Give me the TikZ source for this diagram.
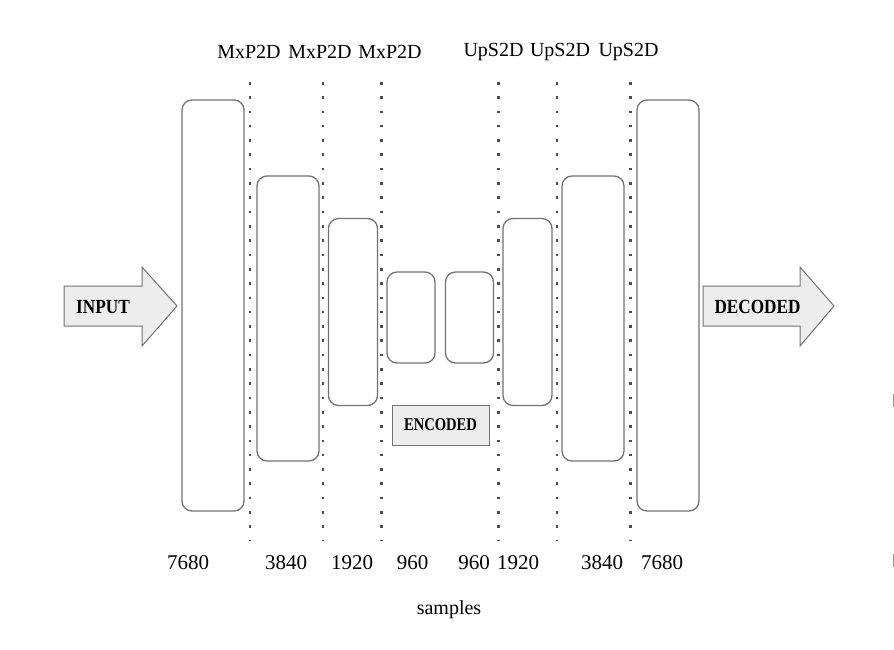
\documentclass[tikz,border=0pt]{standalone}
\usepackage{fontspec}
\setmainfont{Liberation Serif}
\newfontfamily\condbold[FakeStretch=0.86]{Liberation Serif Bold}
\newfontfamily\condboldb[FakeStretch=0.81]{Liberation Serif Bold}
\begin{document}
\begin{tikzpicture}[x=1pt,y=-1pt,
  blk/.style={draw=black!55, line width=1.3pt, rounded corners=10pt, inner sep=0pt},
  sep/.style={draw=black!70, line width=2.6pt, dash pattern=on 2.6pt off 11.7pt},
  lbl/.style={font=\fontsize{20}{24}\selectfont, inner sep=0pt, anchor=center},
  num/.style={font=\fontsize{21}{24}\selectfont, inner sep=0pt, anchor=center},
  tag/.style={font=\condbold\fontsize{20}{22}\selectfont, inner sep=0pt},
  arr/.style={draw=black!55, fill=black!7, line width=1pt, line join=miter}]
\useasboundingbox (0,0) rectangle (894,650);
% blocks
\node[blk, minimum width=62pt, minimum height=411pt] (b1) at (213,305.5) {};
\node[blk, minimum width=62pt, minimum height=285pt] (b2) at (288,318.5) {};
\node[blk, minimum width=49pt, minimum height=187pt] (b3) at (353,312) {};
\node[blk, minimum width=48pt, minimum height=91pt] (b4) at (411,317.5) {};
\node[blk, minimum width=48pt, minimum height=91pt] (b5) at (469.5,317.5) {};
\node[blk, minimum width=49pt, minimum height=187pt] (b6) at (527.5,312) {};
\node[blk, minimum width=62pt, minimum height=285pt] (b7) at (593,318.5) {};
\node[blk, minimum width=62pt, minimum height=411pt] (b8) at (668,305.5) {};
% separators
\foreach \n/\x in {s1/250,s2/323,s3/381.5,s4/498.5,s5/557,s6/630.5}{
  \coordinate (\n t) at (\x,82);
  \coordinate (\n b) at (\x,540);
  \draw[sep] (\n t) -- (\n b);
}
% top labels
\node[lbl] (m1) at (249,52) {MxP2D};
\node[lbl] (m2) at (320,52) {MxP2D};
\node[lbl] (m3) at (390,52) {MxP2D};
\node[lbl] (u1) at (493.5,52) {UpS2D};
\node[lbl] (u2) at (560,52) {UpS2D};
\node[lbl] (u3) at (628.5,52) {UpS2D};
% bottom labels
\node[num] (n1) at (188,563) {7680};
\node[num] (n2) at (286,563) {3840};
\node[num] (n3) at (352,563) {1920};
\node[num] (n4) at (412.5,563) {960};
\node[num] (n5) at (474,563) {960};
\node[num] (n6) at (518,563) {1920};
\node[num] (n7) at (602,563) {3840};
\node[num] (n8) at (662,563) {7680};
\node[lbl] (smp) at (449,610) {samples};
% input arrow
\draw[arr] (64,286) -- (142,286) -- (142,267) -- (177,306) -- (142,346) -- (142,326) -- (64,326) -- cycle;
\node[tag] (in) at (103,307) {INPUT};
% decoded arrow
\draw[arr] (703,286) -- (800,286) -- (800,267) -- (834,306) -- (800,346) -- (800,326) -- (703,326) -- cycle;
\node[tag] (dec) at (757.5,307) {DECODED};
% encoded box
\node[draw=black!55, fill=black!7, line width=1pt, minimum width=97pt, minimum height=40pt, inner sep=0pt] (encbox) at (440.5,425) {};
\node[font=\condboldb\fontsize{18}{20}\selectfont, inner sep=0pt] (enc) at (encbox) {ENCODED};
% edge marks
\coordinate (e1) at (893,394); \coordinate (e2) at (893,407);
\coordinate (e3) at (893,554); \coordinate (e4) at (893,567);
\draw[black!40, line width=1pt] (e1) -- (e2);
\draw[black!40, line width=1pt] (e3) -- (e4);
\end{tikzpicture}
\end{document}
